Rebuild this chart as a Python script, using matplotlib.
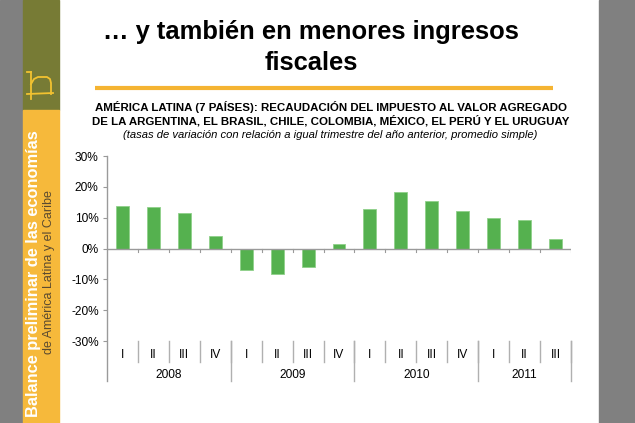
import numpy as np
import matplotlib
matplotlib.use("Agg")
import matplotlib.pyplot as plt
from matplotlib.patches import Rectangle

plt.rcParams['font.family'] = ['Liberation Sans', 'DejaVu Sans']

# data
quarters = ["I", "II", "III", "IV", "I", "II", "III", "IV",
            "I", "II", "III", "IV", "I", "II", "III"]
years = ["2008", "2009", "2010", "2011"]
year_counts = [4, 4, 4, 3]
values = [13.8, 13.5, 11.5, 4.0, -7.0, -8.3, -5.9, 1.4,
          12.9, 18.3, 15.3, 12.2, 9.8, 9.2, 3.1]
yticks = [-30, -20, -10, 0, 10, 20, 30]

W, H = 635, 423
GRAY = "#808080"
OLIVE = "#777b35"
YELLOW = "#f6b93b"
GREEN = "#55b14f"
LOGO = "#f2c230"
TICKSIZE = 8.6

fig = plt.figure(figsize=(W / 100, H / 100), dpi=100)

# background / slide decorations in pixel coords
bg = fig.add_axes([0, 0, 1, 1])
bg.set_xlim(0, W)
bg.set_ylim(H, 0)
bg.axis("off")
bg.add_patch(Rectangle((0, 0), W, H, color="white"))
bg.add_patch(Rectangle((0, 0), 23, H, color=GRAY))
bg.add_patch(Rectangle((599, 0), W - 599, H, color=GRAY))
bg.add_patch(Rectangle((23, 0), 36, 110, color=OLIVE))
bg.add_patch(Rectangle((23, 110), 36, H - 110, color=YELLOW))

# small logo on the olive band
bg.plot([27, 53], [94, 93], color=LOGO, lw=1.3)
bg.plot([31, 31], [72, 99], color=LOGO, lw=1.3)
bg.plot([31, 34, 38, 47, 50, 51, 51], [84, 79, 77, 77, 79, 83, 94],
        color=LOGO, lw=1.3)
bg.plot([27, 31], [72, 72], color=LOGO, lw=1.3)

bg.text(34, 417, "Balance preliminar de las economías", rotation=90,
        color="white", fontsize=11.8, fontweight="bold", ha="center", va="bottom")
bg.text(49, 354, "de América Latina y el Caribe", rotation=90,
        color="#5a4a30", fontsize=9, ha="center", va="bottom")

# titles
bg.text(311, 32, "… y también en menores ingresos", fontsize=18.4,
        fontweight="bold", ha="center", va="center")
bg.text(311, 63, "fiscales", fontsize=18.4, fontweight="bold",
        ha="center", va="center")
bg.plot([95, 553], [88, 88], color="#f5b432", lw=3, solid_capstyle="butt")
bg.text(331, 107, "AMÉRICA LATINA (7 PAÍSES): RECAUDACIÓN DEL IMPUESTO AL VALOR AGREGADO",
        fontsize=8.25, fontweight="bold", ha="center", va="center")
bg.text(331, 121, "DE LA ARGENTINA, EL BRASIL, CHILE, COLOMBIA, MÉXICO, EL PERÚ Y EL URUGUAY",
        fontsize=8.25, fontweight="bold", ha="center", va="center")
bg.text(330, 135, "(tasas de variación con relación a igual trimestre del año anterior, promedio simple)",
        fontsize=8.1, style="italic", ha="center", va="center")

# chart
x0, x1, y0, y1 = 107, 571, 156, 341
ax = fig.add_axes([x0 / W, 1 - y1 / H, (x1 - x0) / W, (y1 - y0) / H])
ax.set_facecolor("none")
n = len(values)
xs = np.arange(n)
ax.bar(xs, values, width=0.42, color=GREEN, edgecolor="#8fd08a", lw=0.6, zorder=3)
ax.set_xlim(-0.5, n - 0.5)
ax.set_ylim(-30, 30)
ax.set_yticks(yticks)
ax.set_yticklabels([f"{t}%" for t in yticks], fontsize=TICKSIZE)
ax.tick_params(axis="y", length=3, width=0.8, color="#999999", pad=3)
ax.set_xticks([])
for s in ["top", "right", "bottom", "left"]:
    ax.spines[s].set_visible(False)

lc = "#9a9a9a"
# zero line and its ticks
ax.axhline(0, color=lc, lw=1, zorder=4)
for b in np.arange(-0.5, n, 1.0)[1:]:
    ax.plot([b, b], [0, -1.2], color=lc, lw=0.8, zorder=4)

tr = ax.get_xaxis_transform()
hgt = y1 - y0
q_bot = -(362 - y1) / hgt
y_bot = -(381 - y1) / hgt
# left axis line
ax.plot([-0.5, -0.5], [y_bot, 1], transform=tr, color=lc, lw=1, clip_on=False)
for b in range(1, n + 1):
    ax.plot([b - 0.5, b - 0.5], [0, q_bot], transform=tr, color="#b0b0b0",
            lw=1, clip_on=False)
for i, q in enumerate(quarters):
    ax.text(i, -(355 - y1) / hgt, q, transform=tr, fontsize=TICKSIZE,
            ha="center", va="center")
start = 0
for yr, c in zip(years, year_counts):
    end = start + c
    ax.plot([end - 0.5, end - 0.5], [0, y_bot], transform=tr, color="#b0b0b0",
            lw=1, clip_on=False)
    ax.text((start + end - 1) / 2, -(375 - y1) / hgt, yr, transform=tr,
            fontsize=TICKSIZE, ha="center", va="center")
    start = end

fig.savefig("out.png", dpi=100)
